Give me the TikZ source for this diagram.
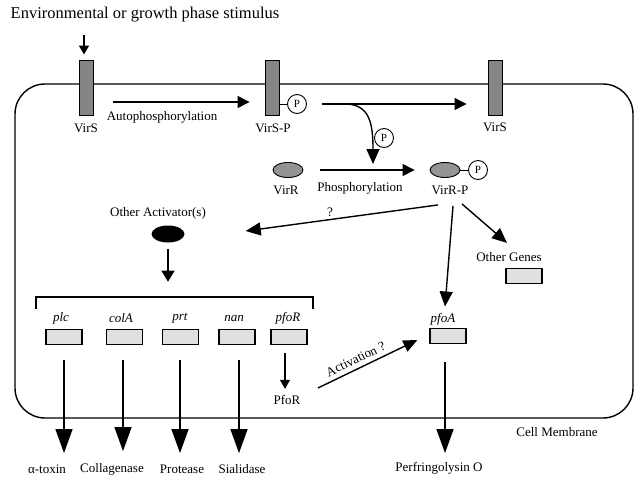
\documentclass[tikz,border=0pt]{standalone}
\usepackage{fontspec}
\setmainfont{Liberation Serif}
\usetikzlibrary{arrows.meta,calc,shapes.geometric}
\begin{document}
\begin{tikzpicture}[x=1pt,y=-1pt,
 font=\fontsize{13}{15}\selectfont,
 bar/.style={draw,line width=0.9pt,fill=black!48,minimum width=14pt,minimum height=55pt,inner sep=0pt},
 gbox/.style={draw,line width=1.2pt,fill=black!12,minimum width=36pt,minimum height=15pt,inner sep=0pt},
 pc/.style={circle,draw,line width=0.9pt,fill=white,minimum size=19pt,inner sep=0pt,font=\fontsize{11}{12}\selectfont},
 prot/.style={ellipse,draw,line width=0.9pt,fill=black!42,minimum width=30pt,minimum height=15pt,inner sep=0pt},
 gene/.style={font=\fontsize{13}{15}\selectfont\itshape},
 arrS/.style={line width=1.2pt,-{Triangle[length=9pt,width=10pt]}},
 arrP/.style={line width=1.3pt,-{Triangle[length=12pt,width=12pt]}},
 arrM/.style={line width=1.4pt,-{Triangle[length=15pt,width=13pt]}},
 arrL/.style={line width=1.3pt,-{Triangle[length=24pt,width=17pt]}}
]
\useasboundingbox (0,0) rectangle (642,485);
\fill[white] (0,0) rectangle (642,485);

% cell membrane
\draw[line width=1.4pt,rounded corners=30pt] (15,84) rectangle (633,418);

% title and stimulus
\node (title) at (145,15) {\fontsize{16.5}{19}\selectfont Environmental or growth phase stimulus};
\node[bar] (virs1) at (86,87.5) {};
\node[bar] (virs2) at (272,87.5) {};
\node[bar] (virs3) at (495,87.5) {};
\node (virs1l) at (86,128) {VirS};
\node (virs2l) at (273,128) {VirS-P};
\node (virs3l) at (495,127) {VirS};
\draw[arrS] ($(virs1.north)+(-2,-25)$) -- ($(virs1.north)+(-2,-5)$);

% autophosphorylation
\node[pc] (p1) at (297,104) {P};
\draw[line width=0.9pt] (p1.west) -- (p1.west -| virs2.east);
\draw[arrP] ($(virs1.east)+(20,14.5)$) -- ($(virs2.west)+(-15,14.5)$);
\node (autol) at (162,117) {Autophosphorylation};

% VirS-P -> VirS
\draw[arrP] ($(p1.east)+(15,0)$) -- ($(virs3.west)+(-21,16.5)$);
\coordinate (phin) at (373,164);
\draw[arrM] ($(p1.east)+(41,0)$) .. controls ($(p1.east)+(62,2)$) and (373,122) .. (phin);
\node[pc] (p2) at (384,138) {P};

% VirR phosphorylation
\node[prot] (virr) at (288,170) {};
\node (virrl) at (286,190) {VirR};
\node[prot] (virrp) at (445,170) {};
\node[pc] (p3) at (478,170) {P};
\draw[line width=0.9pt] (virrp.east) -- (p3.west);
\node (virrpl) at (450,190) {VirR-P};
\draw[arrP] ($(virr.east)+(17,0)$) -- ($(virrp.west)+(-15,0)$);
\node (phosl) at (360,188) {Phosphorylation};

% other activators
\node (oal) at (158,213) {Other Activator(s)};
\node[ellipse,fill=black,minimum width=33pt,minimum height=17pt,inner sep=0pt] (oa) at (168,234) {};
\draw[line width=1.4pt,-{Triangle[length=11pt,width=13pt]}] ($(oa.south)+(0,6)$) -- ($(oa.south)+(0,39)$);
\draw[arrM] ($(virrpl.south)+(-12,7)$) -- ($(oa.east)+(61,-3)$);
\node (ql) at (330,212) {?};

% genes
\draw[line width=2pt] (36,309) -- (36,297) -- (313,297) -- (313,309);
\node[gbox] (gplc) at (64,337) {};
\node[gbox] (gcola) at (124.5,337) {};
\node[gbox] (gprt) at (180.5,337) {};
\node[gbox] (gnan) at (237,337) {};
\node[gbox] (gpfor) at (289,337) {};
\node[gene] (tplc) at (61,318) {plc};
\node[gene] (tcola) at (121,318) {colA};
\node[gene] (tprt) at (180,318) {prt};
\node[gene] (tnan) at (234,318) {nan};
\node[gene] (tpfor) at (288,318) {pfoR};

\node[gbox] (gpfoa) at (448,336) {};
\node[gene] (tpfoa) at (443,319) {pfoA};
\node[gbox] (gog) at (524,276) {};
\node (togl) at (509,257) {Other Genes};

\draw[arrM] ($(virrpl.south)+(3,8)$) -- ($(tpfoa.north)+(2,-3)$);
\draw[arrM] ($(virrpl.south)+(12,6)$) -- ($(togl.north)+(-2,-6)$);

% products
\node (alpha) at (47,469) {α-toxin};
\node (coll) at (112,469) {Collagenase};
\node (prot) at (182,469) {Protease};
\node (sial) at (242,469) {Sialidase};
\node (pfo) at (439,468) {Perfringolysin O};
\node (cm) at (557,432) {Cell Membrane};

\draw[arrL] ($(gplc.south)+(0,15)$) -- ($(gplc.south)+(0,108)$);
\draw[arrL] ($(gcola.south)+(-1.5,15)$) -- ($(gcola.south)+(-1.5,106)$);
\draw[arrL] ($(gprt.south)+(-0.5,15)$) -- ($(gprt.south)+(-0.5,108)$);
\draw[arrL] ($(gnan.south)+(2,15)$) -- ($(gnan.south)+(2,108)$);
\draw[arrL] ($(gpfoa.south)+(-3,18)$) -- ($(gpfoa.south)+(-3,109)$);

% PfoR
\node (pforp) at (287,400) {PfoR};
\draw[arrS] ($(gpfor.south)+(-4,8)$) -- ($(pforp.north)+(-2,-3)$);
\draw[line width=1.4pt,-{Triangle[length=14pt,width=12pt]}] ($(pforp.east)+(14,-12)$) -- node[sloped,above=1pt,pos=0.42] {Activation ?} ($(gpfoa.west)+(-12,4)$);
\end{tikzpicture}
\end{document}
